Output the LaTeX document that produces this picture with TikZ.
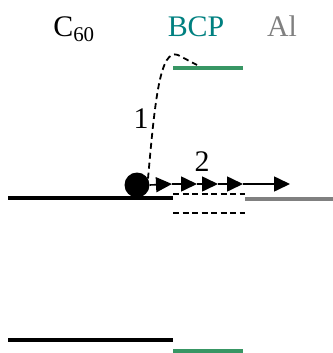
\documentclass[tikz,border=0pt]{standalone}
\usepackage{fontspec}
\setmainfont{Liberation Serif}
\usepackage{xcolor}
\usepackage{tikz}
\usetikzlibrary{arrows.meta}
\definecolor{bcpteal}{RGB}{0,128,128}
\definecolor{bcpgreen}{RGB}{56,150,100}
\definecolor{algray}{RGB}{128,128,128}

\begin{document}
\begin{tikzpicture}[x=1bp,y=-1bp,
    lbl/.style={font=\fontsize{30}{32}\selectfont, inner sep=0pt, anchor=base},
    level/.style={line width=3.5bp},
    bcplevel/.style={line width=4.5bp, bcpgreen},
    trap/.style={line width=1.8bp, dash pattern=on 6bp off 3.5bp},
    hop/.style={-{Triangle[length=16bp,width=15bp]}, line width=1.6bp}
]
    \useasboundingbox (0,0) rectangle (333,353);

    % material labels
    \node[lbl] (c60) at (74,36) {C\textsubscript{60}};
    \node[lbl, text=bcpteal] (bcp) at (196,36) {BCP};
    \node[lbl, text=algray] (al) at (282,36) {Al};

    % energy levels
    \draw[level] (8,198) -- (173,198);
    \draw[bcplevel] (173,68) -- (243,68);
    \draw[level, algray] (245,199) -- (333,199);
    \draw[level] (8,340) -- (173,340);
    \draw[bcplevel] (173,351) -- (243,351);

    % gap states in BCP
    \draw[trap] (173,194) -- (245,194);
    \draw[trap] (173,213) -- (245,213);

    % exciton
    \node[circle, fill=black, minimum size=25bp, inner sep=0pt] (exc) at (137,185) {};

    % path 1: over the barrier
    \draw[line width=1.8bp, dash pattern=on 6bp off 4bp]
        (exc.30) .. controls (155,100) and (160,48) .. (178,55) -- (197,65);
    \node[lbl] (one) at (141,128) {1};

    % path 2: hopping through gap states
    \coordinate (h1) at (172,184);
    \coordinate (h2) at (197,184);
    \coordinate (h3) at (218,184);
    \coordinate (h4) at (243,184);
    \coordinate (h5) at (290,184);
    \draw[hop] (exc.east) -- (h1);
    \foreach \a/\b in {h1/h2,h2/h3,h3/h4,h4/h5}
        \draw[hop] (\a) -- (\b);
    \node[lbl] (two) at (202,171) {2};
\end{tikzpicture}
\end{document}
